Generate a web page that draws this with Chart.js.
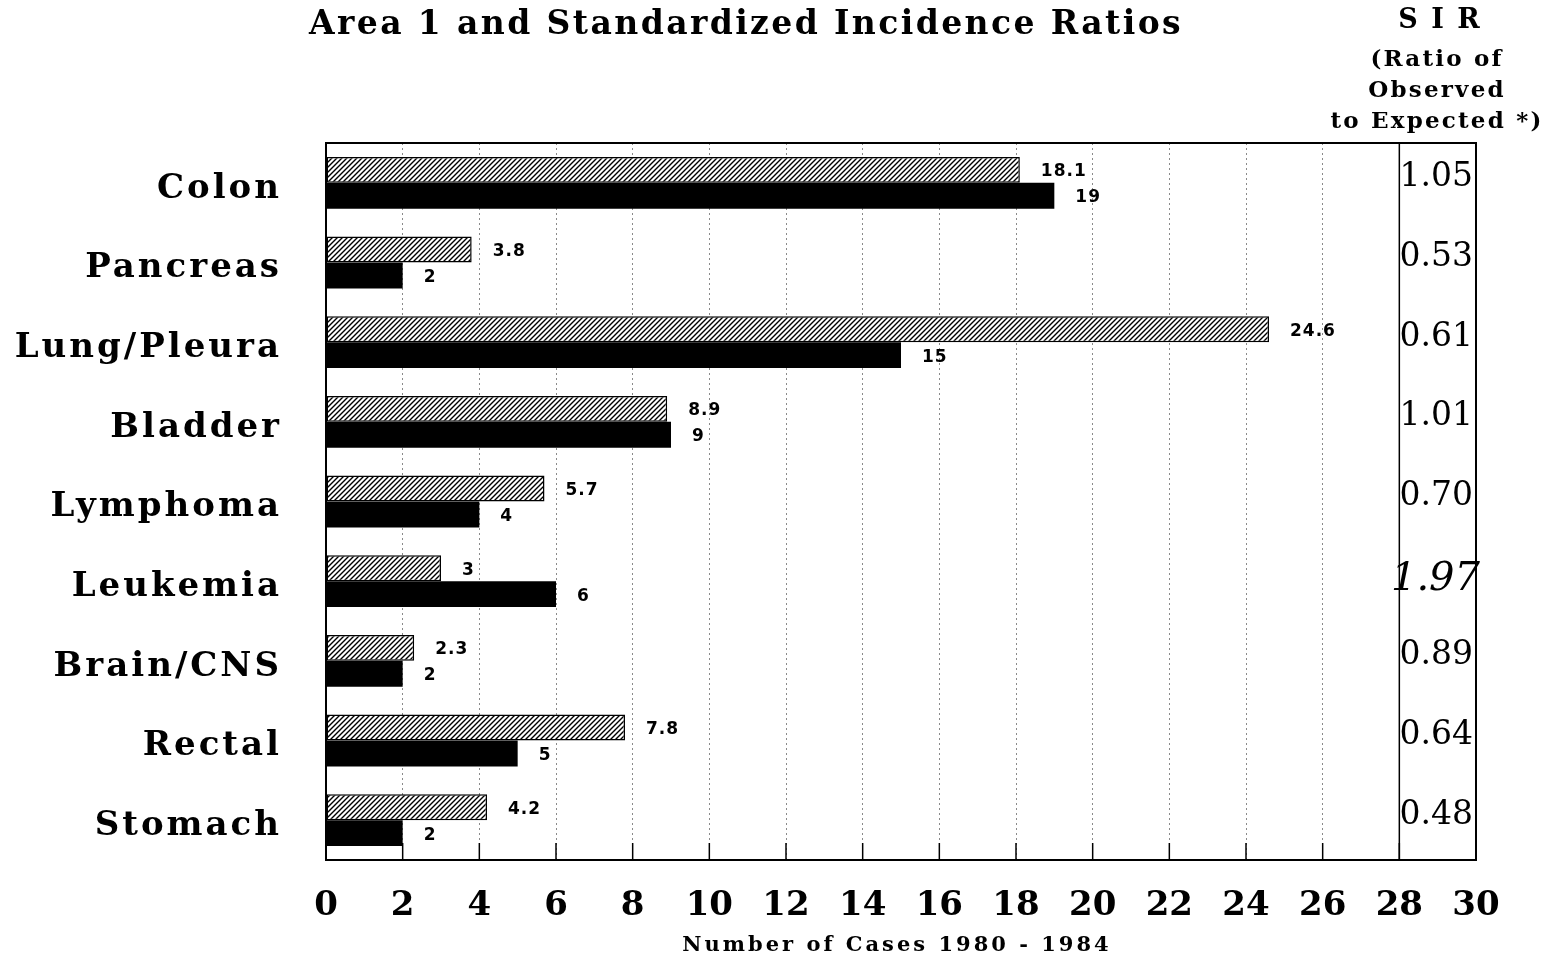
<!DOCTYPE html>
<html>
<head>
<meta charset="utf-8">
<script src="https://cdn.jsdelivr.net/npm/chart.js@4/dist/chart.umd.min.js"></script>
<style>
  html, body { margin: 0; padding: 0; background: #fff; }
  canvas { display: block; }
</style>
</head>
<body>
<canvas id="grafica" width="1554" height="963"></canvas>
<script>
// Datos
const cancerTypes = ['Colon', 'Pancreas', 'Lung/Pleura', 'Bladder', 'Lymphoma', 'Leukemia', 'Brain/CNS', 'Rectal', 'Stomach'];
const expectedCases = [18.1, 3.8, 24.6, 8.9, 5.7, 3, 2.3, 7.8, 4.2];
const observedCases = [19, 2, 15, 9, 4, 6, 2, 5, 2];
const sirValues = ['1.05', '0.53', '0.61', '1.01', '0.70', '1.97', '0.89', '0.64', '0.48'];
const sirHeader = ['S I R', '(Ratio of', 'Observed', 'to Expected *)'];
const chartTitle = 'Area 1 and Standardized Incidence Ratios';
const xAxisTitle = 'Number of Cases 1980 - 1984';

const SERIF = '"DejaVu Serif", serif';

// Patrón rayado para los casos esperados
function crearRayado() {
    const size = 5;
    const c = document.createElement('canvas');
    c.width = size; c.height = size;
    const g = c.getContext('2d');
    g.fillStyle = '#fff';
    g.fillRect(0, 0, size, size);
    g.strokeStyle = '#000';
    g.lineWidth = 1.4;
    g.beginPath();
    g.moveTo(-1, size + 1); g.lineTo(size + 1, -1);
    g.moveTo(-1, 1); g.lineTo(1, -1);
    g.moveTo(size - 1, size + 1); g.lineTo(size + 1, size - 1);
    g.stroke();
    return g.createPattern(c, 'repeat');
}

// Textos, marco, divisor de SIR y etiquetas de barras
const textosPlugin = {
    id: 'textos',
    afterDatasetsDraw(chart) {
        // espaciado de letras para las categorías (se dibujan después, z = 1)
        chart.ctx.letterSpacing = '3px';
    },
    afterDraw(chart) {
        const ctx = chart.ctx;
        const area = chart.chartArea;
        const x = chart.scales.x;
        const y = chart.scales.y;
        ctx.save();
        ctx.letterSpacing = '0px';

        // divisor sólido en 28
        const x28 = x.getPixelForValue(28);
        ctx.strokeStyle = '#000';
        ctx.lineWidth = 1.5;
        ctx.beginPath();
        ctx.moveTo(x28, area.top); ctx.lineTo(x28, area.bottom);
        ctx.stroke();

        // marcas interiores del eje X
        x.ticks.forEach(t => {
            const px = x.getPixelForValue(t.value);
            ctx.beginPath();
            ctx.moveTo(px, area.bottom); ctx.lineTo(px, area.bottom - 17);
            ctx.stroke();
        });

        // marco
        ctx.lineWidth = 2;
        ctx.strokeRect(area.left, area.top, area.right - area.left, area.bottom - area.top);

        // etiquetas de valores
        ctx.fillStyle = '#000';
        ctx.font = 'bold 17px "DejaVu Sans", sans-serif';
        ctx.textAlign = 'left';
        ctx.textBaseline = 'middle';
        ctx.letterSpacing = '1px';
        chart.data.datasets.forEach((ds, di) => {
            const meta = chart.getDatasetMeta(di);
            meta.data.forEach((bar, j) => {
                ctx.fillText(String(ds.data[j]), bar.x + 21, bar.y + 2);
            });
        });

        // valores SIR
        ctx.letterSpacing = '0px';
        ctx.textAlign = 'right';
        sirValues.forEach((v, j) => {
            const py = y.getPixelForValue(j);
            if (v === '1.97') {
                ctx.font = 'italic 40px ' + SERIF;
                ctx.fillText(v, area.right + 4, py - 2);
            } else {
                ctx.font = '33px ' + SERIF;
                ctx.fillText(v, area.right - 3, py - 5);
            }
        });

        // título
        ctx.textAlign = 'center';
        ctx.font = 'bold 33px ' + SERIF;
        ctx.letterSpacing = '2.4px';
        ctx.fillText(chartTitle, 746, 25);

        // encabezado SIR
        ctx.font = 'bold 27px ' + SERIF;
        ctx.letterSpacing = '2px';
        ctx.fillText(sirHeader[0], 1440, 21);
        ctx.font = 'bold 23px ' + SERIF;
        ctx.letterSpacing = '2.2px';
        [60, 91, 122].forEach((py, i) => ctx.fillText(sirHeader[i + 1], 1437, py));

        // título del eje X
        ctx.font = 'bold 21px ' + SERIF;
        ctx.letterSpacing = '3px';
        ctx.fillText(xAxisTitle, 897, 946);

        ctx.restore();
    }
};

const ctx = document.getElementById('grafica').getContext('2d');
const rayado = crearRayado();

new Chart(ctx, {
    type: 'bar',
    data: {
        labels: cancerTypes,
        datasets: [
            {
                label: 'Expected',
                data: expectedCases,
                backgroundColor: rayado,
                borderColor: '#000',
                borderWidth: 1.5,
                borderSkipped: false,
                categoryPercentage: 0.65,
                barPercentage: 1.0
            },
            {
                label: 'Observed',
                data: observedCases,
                backgroundColor: '#000',
                borderColor: '#000',
                borderWidth: 0,
                categoryPercentage: 0.65,
                barPercentage: 1.0
            }
        ]
    },
    options: {
        indexAxis: 'y',
        responsive: false,
        animation: false,
        devicePixelRatio: 1,
        layout: { padding: { left: 0, top: 143, right: 78, bottom: 0 } },
        plugins: {
            legend: { display: false },
            title: { display: false },
            tooltip: { enabled: false }
        },
        scales: {
            x: {
                min: 0,
                max: 30,
                afterFit: s => { s.height = 103; },
                ticks: {
                    stepSize: 2,
                    padding: 26,
                    color: '#000',
                    font: { family: SERIF, size: 34, weight: 'bold' }
                },
                grid: {
                    color: '#8a8a8a',
                    lineWidth: 1,
                    drawTicks: false
                },
                border: { display: false, dash: [2, 3] }
            },
            y: {
                afterFit: s => { s.width = 326; },
                ticks: {
                    z: 1,
                    padding: 44,
                    labelOffset: 6,
                    color: '#000',
                    font: { family: SERIF, size: 34, weight: 'bold' }
                },
                grid: { display: false, drawTicks: false },
                border: { display: false }
            }
        }
    },
    plugins: [textosPlugin]
});
</script>
</body>
</html>
